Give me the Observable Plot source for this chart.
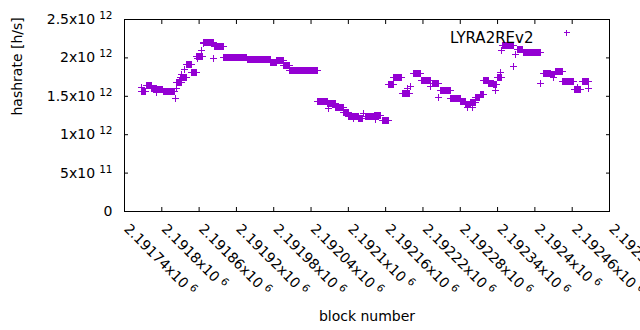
<!DOCTYPE html>
<html><head><meta charset="utf-8">
<script src="https://cdn.jsdelivr.net/npm/d3@7"></script>
<script src="https://cdn.jsdelivr.net/npm/@observablehq/plot@0.6"></script>
<style>body{margin:0;background:#fff} svg{display:block}</style>
</head><body><div id="chart"></div>
<script>
const seriesName = "LYRA2REv2";
// runs of consecutive blocks sharing the same hashrate
const runStart = [2191767,2191775,2191784,2191792,2191802,2191823,2191830,2191839,2191847,2191856,2191867,2191884,2191900,2191938,2191975,2191985,2191996,2192006,2192051,2192067,2192080,2192093,2192101,2192117,2192127,2192142,2192155,2192165,2192173,2192187,2192204,2192217,2192235,2192248,2192265,2192281,2192289,2192297,2192305,2192312,2192318,2192326,2192334,2192340,2192348,2192372,2192381,2192414,2192426,2192433,2192445,2192463,2192476];
const runEnd   = [2191774,2191783,2191791,2191801,2191820,2191831,2191839,2191847,2191855,2191866,2191883,2191899,2191937,2191974,2191984,2191995,2192005,2192050,2192066,2192079,2192092,2192100,2192116,2192122,2192140,2192151,2192164,2192172,2192186,2192198,2192216,2192232,2192245,2192264,2192280,2192288,2192296,2192304,2192311,2192317,2192325,2192333,2192338,2192346,2192365,2192380,2192409,2192425,2192431,2192444,2192462,2192473,2192486];
const runValue = [1.566e12,1.641e12,1.598e12,1.585e12,1.563e12,1.684e12,1.749e12,1.910e12,1.814e12,2.018e12,2.197e12,2.148e12,2.009e12,1.975e12,1.940e12,1.962e12,1.897e12,1.832e12,1.432e12,1.402e12,1.358e12,1.293e12,1.241e12,1.207e12,1.237e12,1.250e12,1.185e12,1.650e12,1.741e12,1.533e12,1.793e12,1.706e12,1.663e12,1.576e12,1.467e12,1.436e12,1.389e12,1.423e12,1.484e12,1.523e12,1.706e12,1.671e12,1.650e12,1.741e12,2.161e12,2.105e12,2.066e12,1.801e12,1.784e12,1.827e12,1.693e12,1.589e12,1.693e12];
// single measurements
const pointBlock = [2191768,2191792,2191822,2191824,2191828,2191832,2191836,2191858,2191864,2191867,2191883,2192068,2192079,2192108,2192124,2192143,2192195,2192200,2192232,2192245,2192291,2192299,2192336,2192344,2192346,2192365,2192369,2192409,2192430,2192468,2192486];
const pointValue = [1.611e12,1.553e12,1.475e12,1.598e12,1.706e12,1.784e12,1.849e12,1.988e12,2.096e12,2.191e12,1.996e12,1.337e12,1.354e12,1.215e12,1.276e12,1.194e12,1.602e12,1.628e12,1.628e12,1.488e12,1.358e12,1.358e12,1.576e12,1.814e12,2.096e12,1.892e12,2.044e12,1.663e12,1.749e12,1.619e12,1.598e12];
const xTicks = [2191740,2191800,2191860,2191920,2191980,2192040,2192100,2192160,2192220,2192280,2192340,2192400,2192460,2192520];
const yTicks = [0,5e11,1e12,1.5e12,2e12,2.5e12];
const xLabel = "block number";
const yLabel = "hashrate [h/s]";

const data = [];
runStart.forEach((s, i) => { for (let b = s; b <= runEnd[i]; b++) data.push({block: b, hashrate: runValue[i]}); });
pointBlock.forEach((b, i) => data.push({block: b, hashrate: pointValue[i]}));

const makePlus = a => ({draw(ctx) { ctx.moveTo(-a, 0); ctx.lineTo(a, 0); ctx.moveTo(0, -a); ctx.lineTo(0, a); }});
const plusSymbol = makePlus(3.5);
const legendPlus = makePlus(3);
const fmt = v => {
  if (v === 0) return "0";
  const e = Math.floor(Math.log10(v) + 1e-9);
  const m = +(v / Math.pow(10, e)).toFixed(6);
  return m + "x10^" + e;
};
const blank = () => "";
const color = "#9400d3";

const chart = Plot.plot({
  width: 640, height: 330,
  marginLeft: 124, marginRight: 31, marginTop: 19, marginBottom: 119,
  style: {fontFamily: "DejaVu Sans", fontSize: "14px", color: "black", background: "white"},
  x: {domain: [2191740, 2192520]},
  y: {domain: [0, 2.5e12]},
  marks: [
    Plot.axisY({ticks: yTicks, tickSize: 0, tickPadding: 12, tickFormat: fmt, label: null}),
    Plot.axisY({ticks: yTicks, tickSize: 4, dx: 4, tickFormat: blank, label: null}),
    Plot.axisY({anchor: "right", ticks: yTicks, tickSize: 4, dx: -4, tickFormat: blank, label: null}),
    Plot.axisX({ticks: xTicks, tickSize: 0, tickPadding: 15, tickRotate: 45, tickFormat: fmt, label: null, dx: 2}),
    Plot.axisX({ticks: xTicks, tickSize: 4, dy: -4, tickFormat: blank, label: null}),
    Plot.axisX({anchor: "top", ticks: xTicks, tickSize: 4, dy: 4, tickFormat: blank, label: null}),
    Plot.frame({stroke: "black"}),
    Plot.dot(data, {x: "block", y: "hashrate", symbol: plusSymbol, stroke: color, fill: "none", strokeWidth: 1, shapeRendering: "crispEdges"}),
    Plot.text([seriesName], {frameAnchor: "top-right", dx: -76, dy: 13, textAnchor: "end", fontSize: 15, text: d => d}),
    Plot.dot([seriesName], {frameAnchor: "top-right", dx: -43, dy: 13, symbol: legendPlus, stroke: color, fill: "none", shapeRendering: "crispEdges"}),
    Plot.text([yLabel], {frameAnchor: "left", dx: -107, rotate: -90, text: d => d}),
    Plot.text([xLabel], {frameAnchor: "bottom", dy: 109, text: d => d})
  ]
});

chart.querySelectorAll('g[aria-label="y-axis tick label"] text, g[aria-label="x-axis tick label"] text').forEach(el => {
  const t = el.textContent;
  if (!t.includes("^")) return;
  const [base, sup] = t.split("^");
  el.textContent = "";
  const ns = "http://www.w3.org/2000/svg";
  const a = document.createElementNS(ns, "tspan"); a.textContent = base; el.appendChild(a);
  const b = document.createElementNS(ns, "tspan"); b.textContent = sup;
  b.setAttribute("dx", "4"); b.setAttribute("dy", "-5"); b.setAttribute("font-size", "10.5");
  el.appendChild(b);
});
document.getElementById("chart").appendChild(chart);
</script>
</body></html>
